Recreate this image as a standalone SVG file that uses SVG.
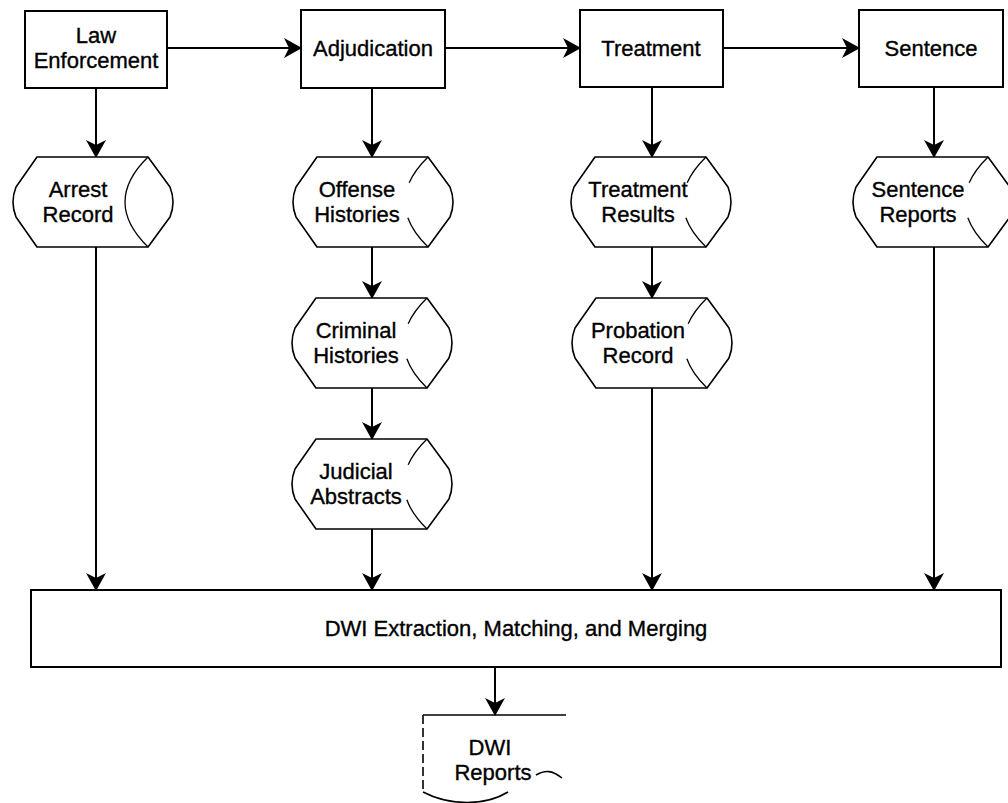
<svg xmlns="http://www.w3.org/2000/svg" xmlns:xlink="http://www.w3.org/1999/xlink" width="1008" height="803" viewBox="0 0 1008 803">
<style>
  text { font-family: "Liberation Sans", Arial, sans-serif; font-size: 22px; fill: #000; stroke: #000; stroke-width: 0.35; text-anchor: middle; }
  .box { fill: #fff; stroke: #000; stroke-width: 2; }
  .outline { fill: #fff; stroke: #000; stroke-width: 1.6; stroke-linejoin: round; }
  .arc { fill: none; stroke: #000; stroke-width: 1.3; }
  .arc.broken { stroke-dasharray: 32 36 40; }
  .conn { fill: none; stroke: #000; stroke-width: 2; }
  .doc { fill: none; stroke: #000; stroke-width: 1.6; }
  .dash { stroke-dasharray: 9 4; }
</style>
<defs>
  <marker id="ah" markerUnits="userSpaceOnUse" viewBox="0 0 18 20" refX="17" refY="10" markerWidth="18" markerHeight="20" orient="auto">
    <path d="M0,0 L18,10 L0,20 L5,10 Z" fill="#000"/>
  </marker>
  <g id="store-solid">
    <path class="outline" d="M27,0 L138,0 L160,30 Q166,45 160,60 L138,90 L27,90 L6,60 Q0,45 6,30 Z"/>
    <path class="arc" d="M138,0 Q92,45 138,90"/>
  </g>
  <g id="store">
    <path class="outline" d="M27,0 L138,0 L160,30 Q166,45 160,60 L138,90 L27,90 L6,60 Q0,45 6,30 Z"/>
    <path class="arc broken" d="M138,0 Q92,45 138,90"/>
  </g>
</defs>
<rect width="1008" height="803" fill="#fff"/>

<g id="connectors">
  <path class="conn" d="M167,48 H301" marker-end="url(#ah)"/>
  <path class="conn" d="M445,48 H580" marker-end="url(#ah)"/>
  <path class="conn" d="M723,48 H859" marker-end="url(#ah)"/>
  <path class="conn" d="M96,88 V157" marker-end="url(#ah)"/>
  <path class="conn" d="M96,247 V590" marker-end="url(#ah)"/>
  <path class="conn" d="M372,88 V157" marker-end="url(#ah)"/>
  <path class="conn" d="M372,247 V298" marker-end="url(#ah)"/>
  <path class="conn" d="M372,388 V439" marker-end="url(#ah)"/>
  <path class="conn" d="M372,529 V590" marker-end="url(#ah)"/>
  <path class="conn" d="M652,87 V157" marker-end="url(#ah)"/>
  <path class="conn" d="M652,247 V298" marker-end="url(#ah)"/>
  <path class="conn" d="M652,388 V590" marker-end="url(#ah)"/>
  <path class="conn" d="M934,87 V157" marker-end="url(#ah)"/>
  <path class="conn" d="M934,247 V590" marker-end="url(#ah)"/>
  <path class="conn" d="M495,667 V715" marker-end="url(#ah)"/>
</g>

<g id="law-enforcement">
  <rect class="box" x="25" y="11" width="142" height="77"/>
  <text x="96" y="43">Law</text>
  <text x="96" y="68">Enforcement</text>
</g>
<g id="adjudication">
  <rect class="box" x="301" y="10" width="144" height="78"/>
  <text x="373" y="56">Adjudication</text>
</g>
<g id="treatment">
  <rect class="box" x="580" y="10" width="143" height="77"/>
  <text x="651" y="56">Treatment</text>
</g>
<g id="sentence">
  <rect class="box" x="859" y="10" width="144" height="77"/>
  <text x="931" y="56">Sentence</text>
</g>

<g id="arrest-record">
  <use xlink:href="#store-solid" x="10" y="157"/>
  <text x="78" y="197">Arrest</text>
  <text x="78" y="222">Record</text>
</g>
<g id="offense-histories">
  <use xlink:href="#store" x="290" y="157"/>
  <text x="357" y="197">Offense</text>
  <text x="357" y="222">Histories</text>
</g>
<g id="criminal-histories">
  <use xlink:href="#store" x="289" y="298"/>
  <text x="356" y="338">Criminal</text>
  <text x="356" y="363">Histories</text>
</g>
<g id="judicial-abstracts">
  <use xlink:href="#store" x="289" y="439"/>
  <text x="356" y="479">Judicial</text>
  <text x="356" y="504">Abstracts</text>
</g>
<g id="treatment-results">
  <use xlink:href="#store" x="568" y="157"/>
  <text x="638" y="197">Treatment</text>
  <text x="638" y="222">Results</text>
</g>
<g id="probation-record">
  <use xlink:href="#store" x="569" y="298"/>
  <text x="638" y="338">Probation</text>
  <text x="638" y="363">Record</text>
</g>
<g id="sentence-reports">
  <use xlink:href="#store" x="850" y="157"/>
  <text x="918" y="197">Sentence</text>
  <text x="918" y="222">Reports</text>
</g>

<g id="dwi-extraction">
  <rect class="box" x="31" y="590" width="970" height="77"/>
  <text x="516" y="636">DWI Extraction, Matching, and Merging</text>
</g>

<g id="dwi-reports">
  <path class="doc" d="M423,715 H566"/>
  <path class="doc dash" d="M423,715 V792"/>
  <path class="doc" d="M423,792 C450,806 485,806 508,792"/>
  <path class="doc" d="M536,775 C545,770 552,770 562,778"/>
  <text x="490" y="755">DWI</text>
  <text x="493" y="780">Reports</text>
</g>
</svg>
